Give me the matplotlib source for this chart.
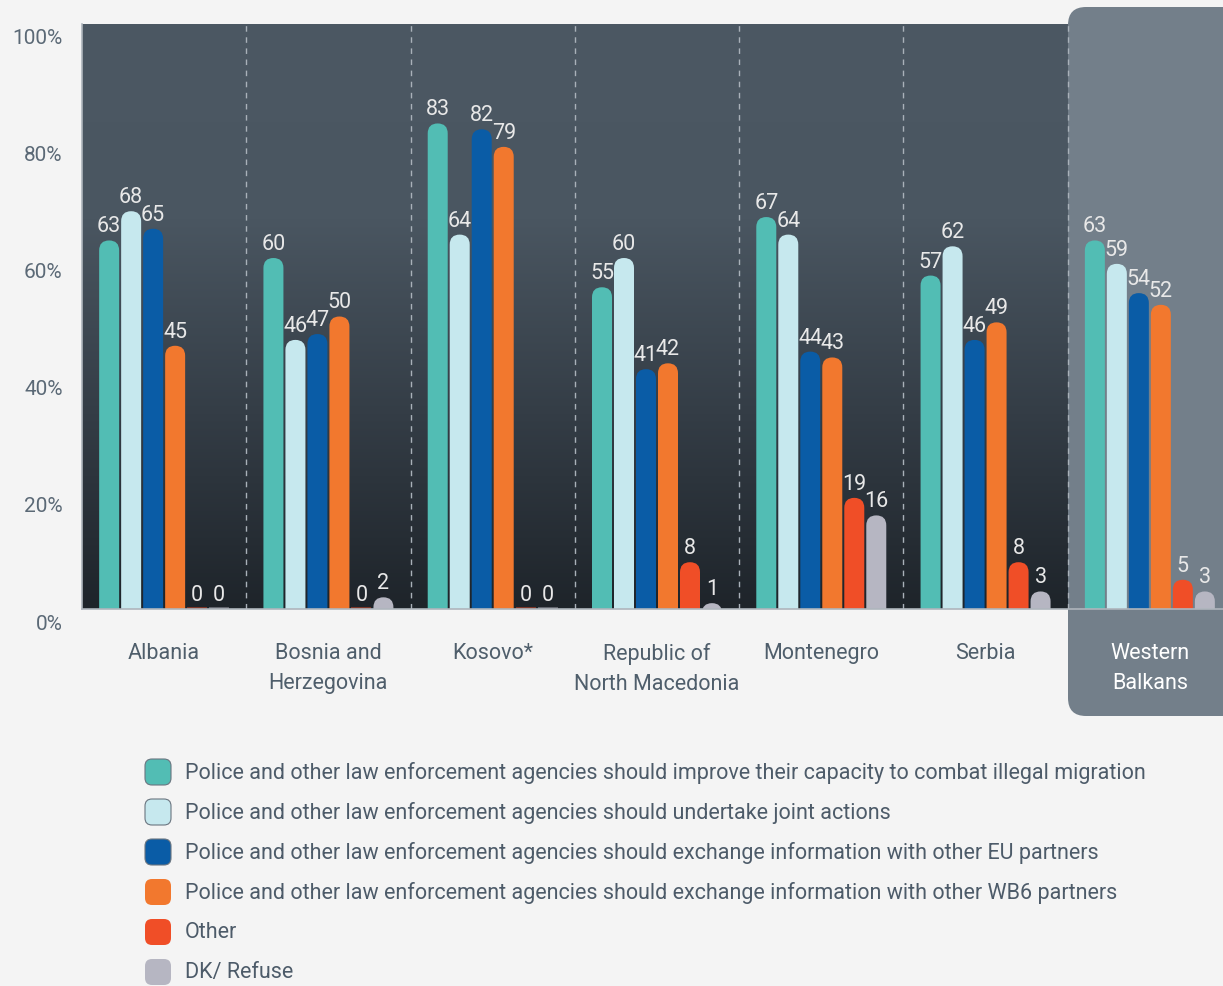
import numpy as np
import matplotlib
matplotlib.use('Agg')
import matplotlib.pyplot as plt
from matplotlib.patches import FancyBboxPatch, Rectangle
from matplotlib.colors import LinearSegmentedColormap
from matplotlib.transforms import IdentityTransform, ScaledTranslation, blended_transform_factory

plt.rcParams['font.family'] = ['Roboto', 'DejaVu Sans']

# ---------------- data ----------------
categories = ['Albania', 'Bosnia and\nHerzegovina', 'Kosovo*', 'Republic of\nNorth Macedonia',
              'Montenegro', 'Serbia', 'Western\nBalkans']
series_names = [
    'Police and other law enforcement agencies should improve their capacity to combat illegal migration',
    'Police and other law enforcement agencies should undertake joint actions',
    'Police and other law enforcement agencies should exchange information with other EU partners',
    'Police and other law enforcement agencies should exchange information with other WB6 partners',
    'Other',
    'DK/ Refuse',
]
improve_capacity = [63, 60, 83, 55, 67, 57, 63]
joint_actions = [68, 46, 64, 60, 64, 62, 59]
exchange_eu = [65, 47, 82, 41, 44, 46, 54]
exchange_wb6 = [45, 50, 79, 42, 43, 49, 52]
other = [0, 0, 0, 8, 19, 8, 5]
dk_refuse = [0, 2, 0, 1, 16, 3, 3]
series_values = [improve_capacity, joint_actions, exchange_eu, exchange_wb6, other, dk_refuse]
series_colors = ['#52bdb4', '#c6e8ee', '#0a5ca6', '#f2782e', '#f04e27', '#b6b6c2']
ytick_values = [0, 20, 40, 60, 80, 100]
ytick_labels = ['0%', '20%', '40%', '60%', '80%', '100%']

# ---------------- figure ----------------
W, H = 1223, 987
fig = plt.figure(figsize=(W / 100, H / 100), dpi=100, facecolor='#f4f4f4')
ax_left, ax_right, ax_top, ax_bottom = 82, 1232, 25, 610
ax = fig.add_axes([ax_left / W, (H - ax_bottom) / H, (ax_right - ax_left) / W, (ax_bottom - ax_top) / H])
n = len(categories)
ax.set_xlim(-0.5, n - 0.5)
ax.set_ylim(0, 100)
ax.set_facecolor('#2a3139')

# gradient background
cmap = LinearSegmentedColormap.from_list('bg', ['#1e242a', '#343d46', '#4a5661', '#4c5863'])
grad = np.linspace(0, 1, 256).reshape(-1, 1)
ax.imshow(grad, extent=(-0.5, n - 0.5, 0, 100), aspect='auto', cmap=cmap, origin='lower', zorder=0)

# Western Balkans panel (pixel coordinates)
panel = FancyBboxPatch((1068, H - 717), 220, 717 - 8, boxstyle='round,pad=0,rounding_size=18',
                       transform=IdentityTransform(), fc='#737f8a', ec='none', zorder=1, clip_on=False)
ax.add_artist(panel)

# dividers
for i in range(1, n):
    ax.axvline(i - 0.5, color='#a9b1b9', lw=1, ls=(0, (4, 4)), zorder=2)

# bars
px_per_x = (ax_right - ax_left) / n
px_per_y = (ax_bottom - ax_top) / 100
aspect = px_per_x / px_per_y
bw = 20 / px_per_x
step = 22 / px_per_x
offsets = (np.arange(len(series_values)) - (len(series_values) - 1) / 2) * step
x = np.arange(n)
for j, (vals, col) in enumerate(zip(series_values, series_colors)):
    for i, v in enumerate(vals):
        xc = x[i] + offsets[j]
        x0 = xc - bw / 2
        if v > 0:
            ext = bw / 2 * aspect * 1.3
            p = FancyBboxPatch((x0, -ext), bw, v + ext,
                               boxstyle=f'round,pad=0,rounding_size={bw / 2}',
                               mutation_aspect=aspect, fc=col, ec='none', zorder=3)
            ax.add_patch(p)
        else:
            ax.add_patch(Rectangle((x0, 0), bw, 0.35, fc=col, ec='none', alpha=0.45, zorder=3))
        ax.annotate(str(v), (xc, v), xytext=(0, 6.5), textcoords='offset points', ha='center',
                    va='baseline', color='#e8e8e8', fontsize=15.5, zorder=5)

# axes styling
for s in ['top', 'right']:
    ax.spines[s].set_visible(False)
for s in ['left', 'bottom']:
    ax.spines[s].set_color('#aeb5bc')
    ax.spines[s].set_linewidth(1.2)
    ax.spines[s].set_zorder(4)
ax.set_yticks(ytick_values)
ax.set_yticklabels(ytick_labels, fontsize=15, color='#5b6976')
ax.tick_params(axis='y', length=0, pad=14)
for lab in ax.get_yticklabels():
    lab.set_transform(lab.get_transform() + ScaledTranslation(0, -0.12, fig.dpi_scale_trans))
ax.set_xticks([])

# category labels
trans = blended_transform_factory(ax.transData, IdentityTransform())
for i, cat in enumerate(categories):
    col = '#ffffff' if i == n - 1 else '#4f5e6b'
    ax.text(x[i], H - 643, cat, transform=trans, ha='center', va='top', fontsize=15.5,
            color=col, linespacing=1.55, clip_on=False, zorder=6)

# legend (pixel coordinates)
row_y = [773, 813, 853, 893, 933, 973]
for name, col, ry in zip(series_names, series_colors, row_y):
    m = FancyBboxPatch((145, H - ry - 13), 26, 26, boxstyle='round,pad=0,rounding_size=7',
                       transform=IdentityTransform(), fc=col,
                       ec='#6a7580' if col in ('#52bdb4', '#c6e8ee', '#0a5ca6') else 'none',
                       lw=0.8, clip_on=False)
    fig.add_artist(m)
    fig.text(185 / W, (H - ry) / H, name, ha='left', va='center', fontsize=15.5, color='#4d5b69')

fig.savefig('out.png', dpi=100, facecolor=fig.get_facecolor())
